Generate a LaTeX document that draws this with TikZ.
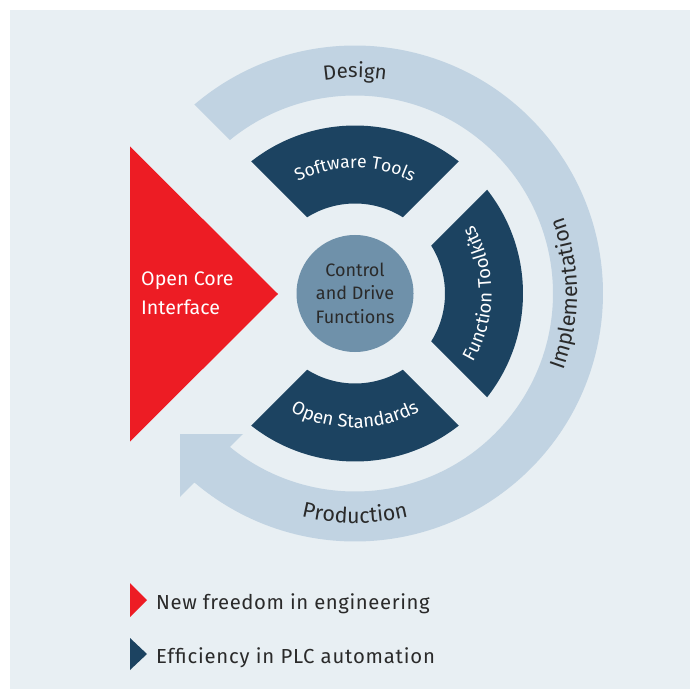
\documentclass[tikz,border=0pt]{standalone}
\usepackage{fontspec}
\setmainfont{Fira Sans}
\usetikzlibrary{calc,decorations.text}
\definecolor{bgc}{HTML}{E8EFF3}
\definecolor{ringc}{HTML}{C1D3E2}
\definecolor{darkc}{HTML}{1C4361}
\definecolor{midc}{HTML}{6F91AA}
\definecolor{redc}{HTML}{ED1C24}
\definecolor{txtc}{HTML}{2A2A2A}
\tikzset{
  lbl/.style={inner sep=0pt, text=txtc},
  seg/.style={fill=darkc},
}
\begin{document}
\begin{tikzpicture}[x=1pt,y=1pt]
\useasboundingbox (0,0) rectangle (690,689);
\fill[white] (0,0) rectangle (690,689);
\fill[bgc] (10,0) rectangle (690,679);
\coordinate (C) at (355,395.5);
% outer ring with arrow head
\fill[ringc] ($(C)+(130.37:248)$) arc[start angle=130.37, end angle=-130.37, radius=248]
  -- ($(C)+(-175,-203.5)$) -- ($(C)+(-175,-140.5)$) -- ($(C)+(-112,-140.5)$)
  -- ($(C)+(-129.2:198)$) arc[start angle=-129.2, end angle=129.2, radius=198] -- cycle;
% dark segments
\fill[seg] ($(C)+(51.84:168)$) arc[start angle=51.84,end angle=128.16,radius=168]
  -- ($(C)+(122.16:90)$) arc[start angle=122.16,end angle=57.84,radius=90] -- cycle;
\fill[seg] ($(C)+(-38.16:168)$) arc[start angle=-38.16,end angle=38.16,radius=168]
  -- ($(C)+(32.16:90)$) arc[start angle=32.16,end angle=-32.16,radius=90] -- cycle;
\fill[seg] ($(C)+(-128.16:168)$) arc[start angle=-128.16,end angle=-51.84,radius=168]
  -- ($(C)+(-57.84:90)$) arc[start angle=-57.84,end angle=-122.16,radius=90] -- cycle;
% center circle
\node[circle, fill=midc, minimum size=117pt, inner sep=0pt] (core) at (C) {};
\node[lbl, anchor=base, font=\fontsize{18}{22}\selectfont] (c1) at (355,412) {Control};
\node[lbl, anchor=base, font=\fontsize{18}{22}\selectfont] (c2) at (355,389) {and Drive};
\node[lbl, anchor=base, font=\fontsize{18}{22}\selectfont] (c3) at (355,366) {Functions};
% red triangle
\fill[redc] (130,542.5) -- (278,395) -- (130,247.5) -- cycle;
\node[lbl, text=white, anchor=base west, font=\fontsize{19.6}{24}\selectfont] (oc1) at (141,403) {Open Core};
\node[lbl, text=white, anchor=base west, font=\fontsize{19.6}{24}\selectfont] (oc2) at (141,374) {Interface};
% curved texts
\path[decorate, decoration={text along path, text align=center,
  text={|\color{txtc}\fontsize{20.5}{24}\selectfont|Design}}]
  ($(C)+(160:215.5)$) arc[start angle=160, end angle=20, radius=215.5];
\path[decorate, decoration={text along path, text align=center,
  text={|\color{txtc}\fontsize{21.5}{24}\selectfont|Implementation}}]
  ($(C)+(-70:222)$) arc[start angle=-70, end angle=70, radius=222];
\path[decorate, decoration={text along path, text align=center,
  text={|\color{txtc}\fontsize{21.5}{24}\selectfont|Production}}]
  ($(C)+(200:229.5)$) arc[start angle=200, end angle=340, radius=229.5];
\path[decorate, decoration={text along path, text align=center,
  text={|\color{white}\fontsize{17.6}{20}\selectfont|Software Tools}}]
  ($(C)+(160:125.5)$) arc[start angle=160, end angle=20, radius=125.5];
\path[decorate, decoration={text along path, text align=center,
  text={|\color{white}\fontsize{18.5}{20}\selectfont|Function Toolkits}}]
  ($(C)+(-80:136.5)$) arc[start angle=-80, end angle=80, radius=136.5];
\path[decorate, decoration={text along path, text align=center,
  text={|\color{white}\fontsize{18.5}{20}\selectfont|Open Standards}}]
  ($(C)+(200:134.5)$) arc[start angle=200, end angle=340, radius=134.5];
% legend
\fill[redc] (130,106) -- (147,89) -- (130,72) -- cycle;
\node[lbl, anchor=base west, font=\fontsize{20.3}{24}\selectfont\addfontfeature{LetterSpace=3}] (l1) at (156,80) {New freedom in engineering};
\fill[darkc] (130,51) -- (147,35) -- (130,19) -- cycle;
\node[lbl, anchor=base west, font=\fontsize{20.3}{24}\selectfont\addfontfeature{LetterSpace=4}] (l2) at (156,26) {Efficiency in PLC automation};
\end{tikzpicture}
\end{document}
